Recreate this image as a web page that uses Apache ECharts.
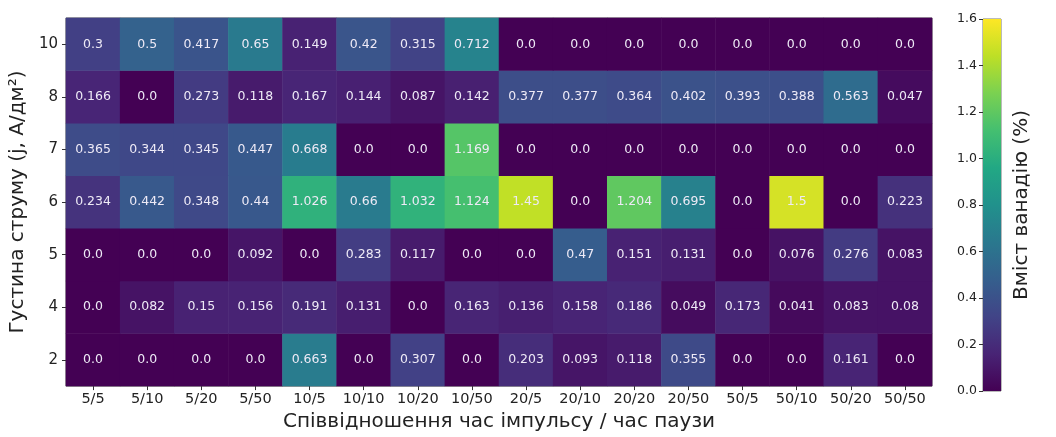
<!DOCTYPE html>
<html>
<head>
<meta charset="utf-8">
<script src="https://cdn.jsdelivr.net/npm/echarts@6/dist/echarts.min.js"></script>
<style>
  html, body { margin: 0; padding: 0; background: #fff; }
  #chart { width: 1056px; height: 437px; }
</style>
</head>
<body>
<div id="chart"></div>
<script>
// Pulse / pause time ratios (x) and current densities (y, bottom to top)
const ratios = ['5/5','5/10','5/20','5/50','10/5','10/10','10/20','10/50','20/5','20/10','20/20','20/50','50/5','50/10','50/20','50/50'];
const densities = ['2','4','5','6','7','8','10'];

// Vanadium content (%) per current density, one value per ratio
const row10 = [0.3, 0.5, 0.417, 0.65, 0.149, 0.42, 0.315, 0.712, 0.0, 0.0, 0.0, 0.0, 0.0, 0.0, 0.0, 0.0];
const row8  = [0.166, 0.0, 0.273, 0.118, 0.167, 0.144, 0.087, 0.142, 0.377, 0.377, 0.364, 0.402, 0.393, 0.388, 0.563, 0.047];
const row7  = [0.365, 0.344, 0.345, 0.447, 0.668, 0.0, 0.0, 1.169, 0.0, 0.0, 0.0, 0.0, 0.0, 0.0, 0.0, 0.0];
const row6  = [0.234, 0.442, 0.348, 0.44, 1.026, 0.66, 1.032, 1.124, 1.45, 0.0, 1.204, 0.695, 0.0, 1.5, 0.0, 0.223];
const row5  = [0.0, 0.0, 0.0, 0.092, 0.0, 0.283, 0.117, 0.0, 0.0, 0.47, 0.151, 0.131, 0.0, 0.076, 0.276, 0.083];
const row4  = [0.0, 0.082, 0.15, 0.156, 0.191, 0.131, 0.0, 0.163, 0.136, 0.158, 0.186, 0.049, 0.173, 0.041, 0.083, 0.08];
const row2  = [0.0, 0.0, 0.0, 0.0, 0.663, 0.0, 0.307, 0.0, 0.203, 0.093, 0.118, 0.355, 0.0, 0.0, 0.161, 0.0];

const colorMin = 0.0;
const colorMax = 1.6;
const colorTick = 0.2;

const rowsByDensity = { '2': row2, '4': row4, '5': row5, '6': row6, '7': row7, '8': row8, '10': row10 };

// viridis colormap
const viridis = ['#440154','#482475','#414487','#355f8d','#2a788e','#21918c','#22a884','#44bf70','#7ad151','#bddf26','#fde725'];

const cells = [];
densities.forEach((d, yi) => {
  rowsByDensity[d].forEach((v, xi) => cells.push([xi, yi, v]));
});

const FONT = 'DejaVu Sans';
const INK = '#222';
const chart = echarts.init(document.getElementById('chart'), null, { renderer: 'canvas' });

chart.setOption({
  animation: false,
  textStyle: { fontFamily: FONT },
  grid: [
    { left: 63, right: 124, top: 18, bottom: 45, show: true, borderColor: '#555', borderWidth: 1, backgroundColor: 'transparent' },
    { left: 983, width: 18, top: 19, bottom: 46, show: true, borderColor: '#777', borderWidth: 1 }
  ],
  xAxis: [
    {
      type: 'category', data: ratios, gridIndex: 0,
      axisLine: { show: false },
      axisTick: { show: true, alignWithLabel: true, interval: 0, length: 4, lineStyle: { color: '#333' } },
      axisLabel: { color: INK, fontSize: 14.5, margin: 6, interval: 0, hideOverlap: false, fontFamily: FONT },
      splitLine: { show: false },
      name: 'Співвідношення час імпульсу / час паузи',
      nameLocation: 'middle', nameGap: 22,
      nameTextStyle: { color: INK, fontSize: 20, fontFamily: FONT }
    },
    {
      type: 'category', data: [''], gridIndex: 1,
      axisLine: { show: false }, axisTick: { show: false }, axisLabel: { show: false }
    }
  ],
  yAxis: [
    {
      type: 'category', data: densities, gridIndex: 0,
      axisLine: { show: false },
      axisTick: { show: true, alignWithLabel: true, interval: 0, length: 4, lineStyle: { color: '#333' } },
      axisLabel: { color: INK, fontSize: 15, margin: 8, interval: 0, fontFamily: FONT },
      splitLine: { show: false },
      name: 'Густина струму (j, А/дм²)',
      nameLocation: 'middle', nameGap: 29,
      nameTextStyle: { color: INK, fontSize: 20, fontFamily: FONT }
    },
    {
      type: 'value', gridIndex: 1, position: 'left',
      min: colorMin, max: colorMax, interval: colorTick,
      axisLine: { show: false },
      axisTick: { show: true, length: 4, lineStyle: { color: '#333' } },
      axisLabel: { color: INK, fontSize: 12.5, margin: 6, fontFamily: FONT, formatter: v => v.toFixed(1) },
      splitLine: { show: false }
    },
    {
      type: 'value', gridIndex: 1, position: 'right',
      min: colorMin, max: colorMax,
      axisLine: { show: false }, axisTick: { show: false }, axisLabel: { show: false },
      splitLine: { show: false },
      name: 'Вміст ванадію (%)',
      nameLocation: 'middle', nameGap: 11, nameRotate: 90,
      nameTextStyle: { color: INK, fontSize: 20, fontFamily: FONT, verticalAlign: 'top' }
    }
  ],
  visualMap: {
    show: false, type: 'continuous', seriesIndex: 0, dimension: 2,
    min: colorMin, max: colorMax,
    inRange: { color: viridis }
  },
  series: [
    {
      type: 'heatmap', xAxisIndex: 0, yAxisIndex: 0,
      data: cells,
      label: {
        show: true, color: '#eeeaf6', fontSize: 12.5, fontFamily: FONT,
        formatter: p => (p.value[2] === 0 ? '0.0' : String(p.value[2]))
      },
      itemStyle: { borderWidth: 0 },
      emphasis: { disabled: true }
    },
    {
      // colour bar
      type: 'bar', xAxisIndex: 1, yAxisIndex: 1,
      data: [colorMax], barWidth: '100%', silent: true,
      itemStyle: {
        color: new echarts.graphic.LinearGradient(0, 1, 0, 0,
          viridis.map((c, i) => ({ offset: i / (viridis.length - 1), color: c })))
      }
    }
  ]
});
</script>
</body>
</html>
